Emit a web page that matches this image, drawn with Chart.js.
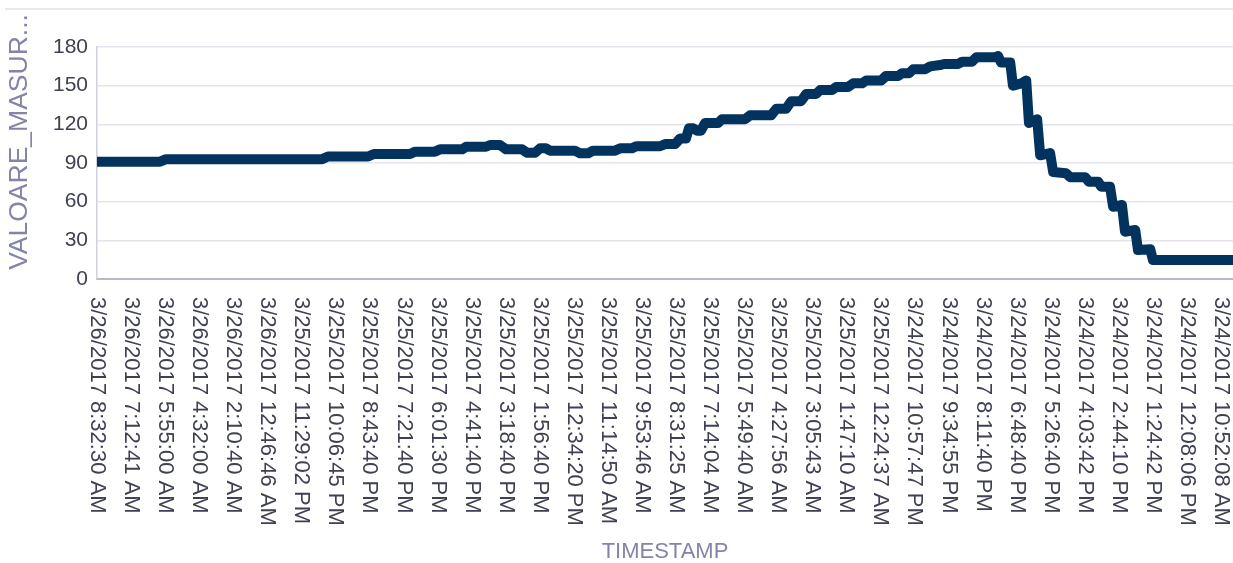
<!DOCTYPE html>
<html>
<head>
<meta charset="utf-8">
<script src="https://cdn.jsdelivr.net/npm/chart.js@4/dist/chart.umd.min.js"></script>
<style>
  body { margin: 0; background: #fff; overflow: hidden; }
  #wrap { position: relative; width: 1233px; height: 563px; }
  #topline { position: absolute; left: 5px; right: 0; top: 8px; height: 2px; background: #e8e8ee; }
</style>
</head>
<body>
<div id="wrap">
  <div id="topline"></div>
  <canvas id="canvas"></canvas>
</div>
<script>
// tick labels along the x axis (one per tick, index 0..33)
var tickLabels = [
  '3/26/2017 8:32:30 AM', '3/26/2017 7:12:41 AM', '3/26/2017 5:55:00 AM', '3/26/2017 4:32:00 AM',
  '3/26/2017 2:10:40 AM', '3/26/2017 12:46:46 AM', '3/25/2017 11:29:02 PM', '3/25/2017 10:06:45 PM',
  '3/25/2017 8:43:40 PM', '3/25/2017 7:21:40 PM', '3/25/2017 6:01:30 PM', '3/25/2017 4:41:40 PM',
  '3/25/2017 3:18:40 PM', '3/25/2017 1:56:40 PM', '3/25/2017 12:34:20 PM', '3/25/2017 11:14:50 AM',
  '3/25/2017 9:53:46 AM', '3/25/2017 8:31:25 AM', '3/25/2017 7:14:04 AM', '3/25/2017 5:49:40 AM',
  '3/25/2017 4:27:56 AM', '3/25/2017 3:05:43 AM', '3/25/2017 1:47:10 AM', '3/25/2017 12:24:37 AM',
  '3/24/2017 10:57:47 PM', '3/24/2017 9:34:55 PM', '3/24/2017 8:11:40 PM', '3/24/2017 6:48:40 PM',
  '3/24/2017 5:26:40 PM', '3/24/2017 4:03:42 PM', '3/24/2017 2:44:10 PM', '3/24/2017 1:24:42 PM',
  '3/24/2017 12:08:06 PM', '3/24/2017 10:52:08 AM'
];

// position of each reading, in tick units (0 = first tick)
var positions = [
  0, 1.85, 2.03, 6.61, 6.78, 7.96, 8.13, 9.19, 9.34, 9.92,
  10.07, 10.72, 10.83, 11.42, 11.54, 11.83, 12.01, 12.48, 12.62, 12.86,
  13.01, 13.18, 13.30, 14.03, 14.18, 14.42, 14.56, 15.21, 15.36, 15.71,
  15.83, 16.53, 16.68, 16.97, 17.12, 17.29, 17.38, 17.50, 17.62, 17.73,
  17.85, 18.23, 18.35, 19.03, 19.17, 19.79, 19.94, 20.23, 20.38, 20.67,
  20.82, 21.11, 21.23, 21.58, 21.70, 22.05, 22.20, 22.46, 22.58, 23.02,
  23.16, 23.52, 23.63, 23.84, 23.96, 24.31, 24.46, 24.75, 24.87, 25.28,
  25.40, 25.69, 25.81, 26.37, 26.45, 26.54, 26.81, 26.89, 27.16, 27.28,
  27.36, 27.60, 27.69, 27.98, 28.07, 28.45, 28.57, 29.01, 29.12, 29.39,
  29.48, 29.74, 29.83, 30.09, 30.18, 30.48, 30.56, 30.92, 31.00, 33.35
];

// VALOARE_MASURATA readings
var values = [
  91, 91, 93, 93, 95, 95, 97, 97, 98.8, 98.8,
  100.6, 100.6, 102.6, 102.6, 104, 104, 100.6, 100.6, 98, 98,
  101.4, 101.4, 99.6, 99.6, 97.5, 97.5, 99.6, 99.6, 101.4, 101.4,
  103, 103, 104.7, 104.7, 109, 109, 117, 117, 115, 115,
  121, 121, 124, 124, 127, 127, 132, 132, 138, 138,
  143.5, 143.5, 146.6, 146.6, 149, 149, 151.8, 151.8, 154, 154,
  157.5, 157.5, 159.6, 159.6, 162.7, 162.7, 165, 166, 166.8, 166.8,
  168.6, 168.6, 172, 172, 173, 168, 168, 150, 152, 154,
  121, 124, 96, 97.7, 83, 82, 79, 79, 75.5, 75.5,
  71.6, 71.6, 56, 57.4, 36.7, 38, 22.5, 23, 14.7, 14.7
];

var points = [];
for (var i in positions) points.push({ x: positions[i], y: values[i] });

var titleColor = '#8384a8';
var tickColor = '#3f4152';

var extraText = {
  id: 'extraText',
  afterDraw: function (chart) {
    var ctx = chart.ctx;
    var xs = chart.scales.x;
    ctx.save();
    ctx.fillStyle = tickColor;
    ctx.font = '22px "Liberation Sans", Arial, sans-serif';
    ctx.textAlign = 'left';
    ctx.textBaseline = 'middle';
    for (var i = 0; i < tickLabels.length; i++) {
      var px = xs.getPixelForValue(i);
      ctx.save();
      ctx.translate(px, 297);
      ctx.rotate(Math.PI / 2);
      ctx.fillText(tickLabels[i], 0, 0);
      ctx.restore();
    }
    // y axis title
    ctx.fillStyle = titleColor;
    ctx.font = '26.5px "Liberation Sans", Arial, sans-serif';
    ctx.textAlign = 'center';
    ctx.translate(20, 142);
    ctx.rotate(-Math.PI / 2);
    ctx.fillText('VALOARE_MASUR...', 0, 0);
    ctx.restore();
  }
};

var chart = new Chart(document.getElementById('canvas').getContext('2d'), {
  type: 'line',
  data: {
    datasets: [{
      data: points,
      borderColor: '#02335f',
      borderWidth: 10,
      borderCapStyle: 'round',
      borderJoinStyle: 'round',
      pointRadius: 0,
      tension: 0
    }]
  },
  options: {
    responsive: true,
    maintainAspectRatio: false,
    animation: false,
    layout: { padding: { top: 47, left: 0, right: 0, bottom: 0 } },
    plugins: { legend: { display: false }, tooltip: { enabled: false } },
    scales: {
      x: {
        type: 'linear',
        min: 0,
        max: 33.35,
        grid: { display: false },
        border: { color: '#b8b9c8', width: 2 },
        ticks: { display: false },
        title: {
          display: true,
          text: 'TIMESTAMP',
          color: titleColor,
          font: { family: '"Liberation Sans", Arial, sans-serif', size: 22, lineHeight: 1 },
          padding: 0
        },
        afterFit: function (scale) { scale.height = 284; }
      },
      y: {
        min: 0,
        max: 180,
        ticks: {
          stepSize: 30,
          color: tickColor,
          padding: 9,
          font: { family: '"Liberation Sans", Arial, sans-serif', size: 21 }
        },
        grid: { color: '#e4e4ec', lineWidth: 1.5, drawTicks: false },
        border: { color: '#cfd0dc', width: 1.5 },
        afterFit: function (scale) { scale.width = 97; }
      }
    }
  },
  plugins: [extraText]
});
</script>
</body>
</html>
